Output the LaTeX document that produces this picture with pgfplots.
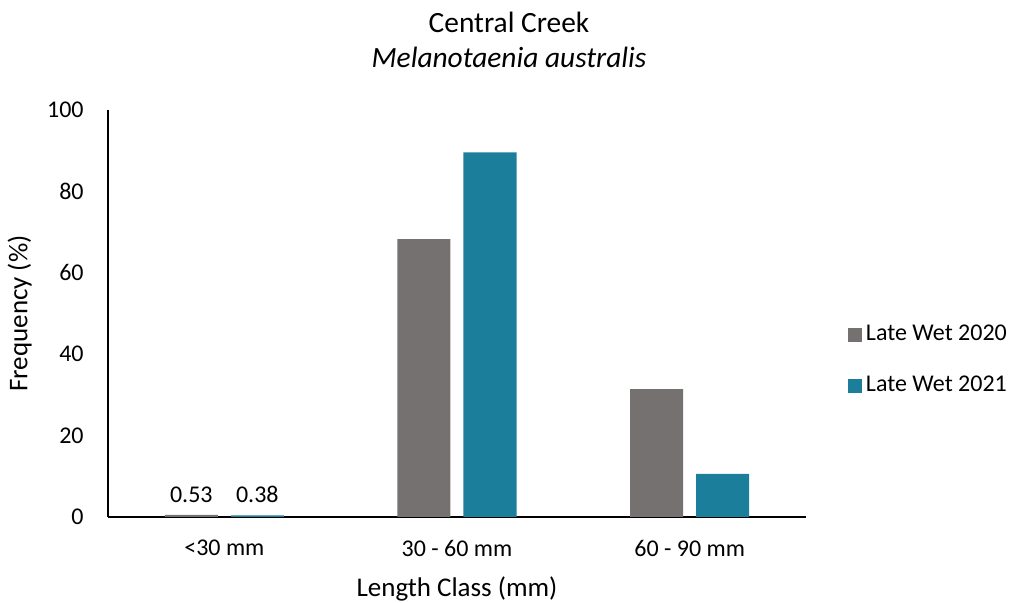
\documentclass[border=0pt]{standalone}
\usepackage{fontspec}
\setmainfont{Carlito}
\usepackage{pgfplots}
\pgfplotsset{compat=1.18}
\definecolor{cgray}{HTML}{767171}
\definecolor{cteal}{HTML}{1B7F9C}
\begin{document}
\fontsize{12pt}{14.4pt}\selectfont
\begin{tikzpicture}
\begin{axis}[
  name=ax,
  scale only axis,
  width=349pt, height=203.5pt,
  xmin=-0.5, xmax=2.5,
  ymin=0, ymax=100,
  ytick={0,20,40,60,80,100},
  xtick={0,1,2},
  xticklabels={<30 mm, 30 - 60 mm, 60 - 90 mm},
  axis x line=bottom, axis y line=left,
  axis line style={-, black, line width=0.8pt},
  major tick length=0pt,
  ybar=6.5pt, bar width=26.5pt,
  /pgf/number format/assume math mode=true,
  tick label style={font=\fontsize{12pt}{14.4pt}\selectfont},
  yticklabel style={xshift=-8pt},
  xticklabel style={yshift=-7.5pt},
  xlabel={Length Class (mm)},
  ylabel={Frequency (\%)},
  label style={font=\fontsize{13.5pt}{16pt}\selectfont},
  xlabel style={yshift=-2pt},
  ylabel style={yshift=-0.5pt},
  clip=false,
  legend style={draw=none, fill=none, at={(axis description cs:1.06,0.385)}, anchor=west,
    font=\fontsize{12pt}{14.4pt}\selectfont, row sep=12pt, inner sep=0pt},
  legend cell align=left,
  legend image code/.code={\fill[#1] (0cm,-0.12cm) rectangle (0.24cm,0.12cm);},
  nodes near coords,
  point meta=explicit symbolic,
  every node near coord/.append style={font=\fontsize{12pt}{14.4pt}\selectfont, yshift=2pt},
]
\addplot[fill=cgray, draw=none] coordinates {(0,0.53)[0.53] (1,68.3)[] (2,31.4)[]};
\addplot[fill=cteal, draw=none] coordinates {(0,0.38)[0.38] (1,89.6)[] (2,10.6)[]};
\legend{Late Wet 2020, Late Wet 2021}
\coordinate (bl) at (rel axis cs:0,0);
\coordinate (tr) at (rel axis cs:1,1);
\node[font=\fontsize{14.7pt}{17pt}\selectfont] at ([yshift=44pt]axis description cs:0.5745,1) {Central Creek};
\node[font=\fontsize{14.7pt}{17pt}\selectfont\itshape] at ([yshift=26.5pt]axis description cs:0.5745,1) {Melanotaenia australis};
\end{axis}
\pgfresetboundingbox
\path[use as bounding box] ([shift={(-54pt,-43pt)}]bl) rectangle ([shift={(106.5pt,55pt)}]tr);
\end{tikzpicture}
\end{document}
